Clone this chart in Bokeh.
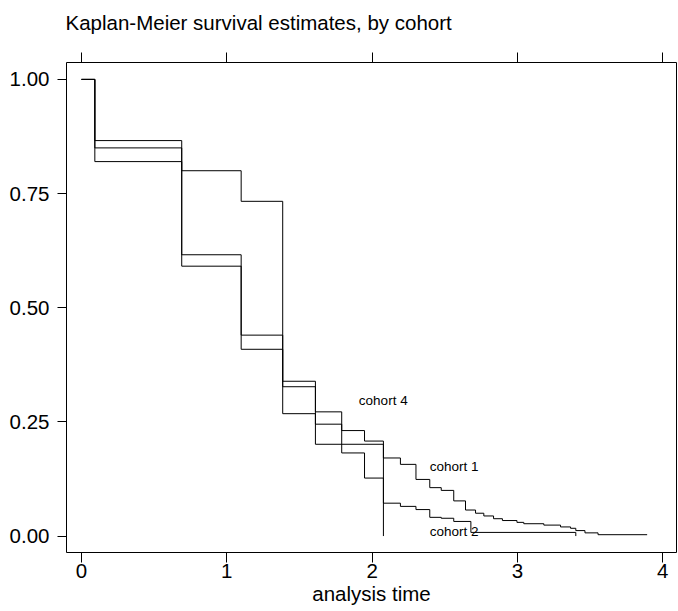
from bokeh.plotting import figure
from bokeh.models import LinearAxis, FixedTicker, Range1d, NumeralTickFormatter, CustomLabelingPolicy
from bokeh.core.properties import value
from bokeh.embed import file_html
from bokeh.resources import INLINE

FONT = "Liberation Sans"

# Kaplan-Meier step data (time of change, survival after that time)
c1_t = [0, 0.092, 0.690, 1.099, 1.385, 1.610, 1.791, 1.948, 2.078, 2.195, 2.302, 2.397, 2.476, 2.562,
        2.643, 2.712, 2.769, 2.836, 2.897, 2.997, 3.044, 3.182, 3.297, 3.366, 3.402, 3.465, 3.555, 3.893]
c1_s = [1.0, 0.850, 0.616, 0.440, 0.339, 0.272, 0.231, 0.208, 0.171, 0.157, 0.124, 0.106, 0.100, 0.077,
        0.057, 0.050, 0.044, 0.038, 0.034, 0.030, 0.027, 0.024, 0.020, 0.017, 0.012, 0.007, 0.003, 0.003]

c2_t = [0, 0.092, 0.690, 1.099, 1.385, 1.610, 1.791, 1.948, 2.078, 2.195, 2.302, 2.397, 2.476, 2.562, 2.680, 3.402]
c2_s = [1.0, 0.866, 0.800, 0.733, 0.327, 0.245, 0.182, 0.127, 0.072, 0.065, 0.058, 0.041, 0.039, 0.032, 0.008, 0.0]

c4_t = [0, 0.092, 0.690, 1.099, 1.385, 1.610, 2.078]
c4_s = [1.0, 0.820, 0.591, 0.409, 0.268, 0.201, 0.0]

label_text = ["cohort 4", "cohort 1", "cohort 2"]
label_x = [1.909, 2.397, 2.397]
label_y = [0.297, 0.153, 0.011]

x_ticks = [0, 1, 2, 3, 4]
y_ticks = [0, 0.25, 0.5, 0.75, 1.0]

p = figure(frame_width=610, frame_height=490,
           x_range=Range1d(-0.103, 4.095), y_range=Range1d(-0.036, 1.037),
           output_backend="svg", toolbar_location=None,
           min_border_left=66, min_border_right=1, min_border_top=61, min_border_bottom=58,
           title="Kaplan-Meier survival estimates, by cohort",
           x_axis_label="analysis time")

p.background_fill_color = "white"
p.border_fill_color = "white"
p.outline_line_color = "black"
p.outline_line_width = 1
p.xgrid.visible = False
p.ygrid.visible = False

p.title.text_font = FONT
p.title.text_font_size = "20.5px"
p.title.text_font_style = "normal"
p.title.text_color = "black"
p.title.align = "left"
p.title.offset = -1
p.title.standoff = 16

for ax in (p.xaxis[0], p.yaxis[0]):
    ax.axis_line_color = None
    ax.major_tick_line_color = "black"
    ax.major_tick_in = 0
    ax.major_tick_out = 10
    ax.minor_tick_line_color = None
    ax.major_label_text_font = FONT
    ax.major_label_text_font_size = "20.5px"
    ax.major_label_text_color = "black"

p.xaxis[0].ticker = FixedTicker(ticks=x_ticks)
p.xaxis[0].formatter = NumeralTickFormatter(format="0")
p.xaxis[0].major_label_standoff = 1
p.xaxis[0].axis_label_text_font = FONT
p.xaxis[0].axis_label_text_font_size = "20.5px"
p.xaxis[0].axis_label_text_font_style = "normal"
p.xaxis[0].axis_label_text_color = "black"
p.xaxis[0].axis_label_standoff = 1

p.yaxis[0].ticker = FixedTicker(ticks=y_ticks)
p.yaxis[0].formatter = NumeralTickFormatter(format="0.00")
p.yaxis[0].major_label_standoff = 8
p.yaxis[0].major_tick_out = 9

no_labels = CustomLabelingPolicy(code="""
if (indices != null && typeof indices.clear === "function") { indices.clear(); return indices; }
return new Set();
""")
top = LinearAxis(ticker=FixedTicker(ticks=x_ticks), axis_line_color=None,
                 major_tick_in=0, major_tick_out=10, major_tick_line_color="black",
                 minor_tick_line_color=None, major_label_policy=no_labels,
                 major_label_text_font=FONT, major_label_text_font_size="10px",
                 major_label_standoff=0)
p.add_layout(top, "above")

for t, s in ((c1_t, c1_s), (c2_t, c2_s), (c4_t, c4_s)):
    p.step(t, s, mode="after", line_color="black", line_width=1)

p.text(x=label_x, y=label_y, text=label_text, text_font=value(FONT), text_font_size="13.5px",
       text_align="left", text_baseline="middle", text_color="black")

open("out.html", "w").write(file_html(p, INLINE))
